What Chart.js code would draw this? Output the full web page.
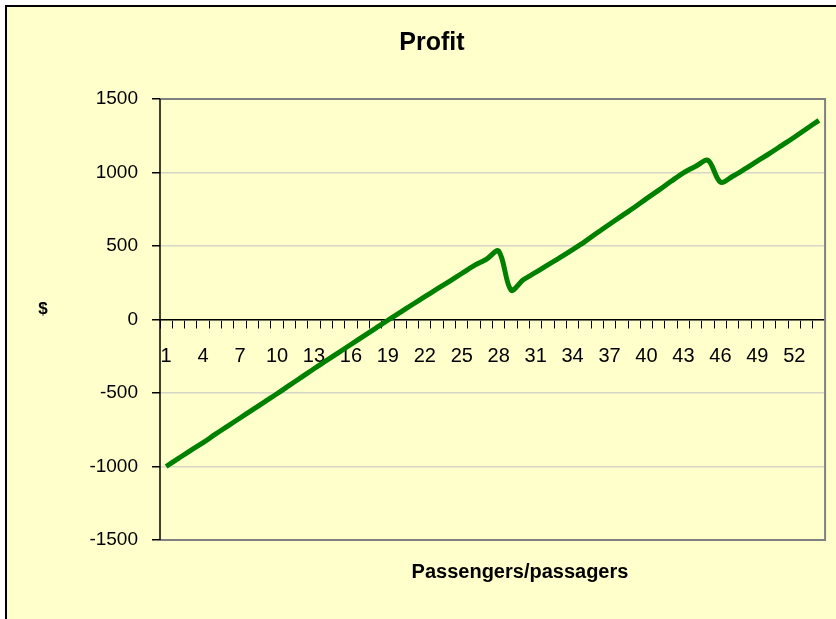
<!DOCTYPE html>
<html>
<head>
<meta charset="utf-8">
<script src="https://cdn.jsdelivr.net/npm/chart.js@4/dist/chart.umd.min.js"></script>
<style>
  html, body { margin: 0; padding: 0; background: #fff; }
  #wrap { position: absolute; left: 0; top: 0; width: 836px; height: 619px; }
</style>
</head>
<body>
<div id="wrap"><canvas id="profitChart" width="836" height="619"></canvas></div>
<script>
// passengers (categories)
const passengers = ['1','2','3','4','5','6','7','8','9','10','11','12','13','14','15','16','17','18',
  '19','20','21','22','23','24','25','26','27','28','29','30','31','32','33','34','35','36',
  '37','38','39','40','41','42','43','44','45','46','47','48','49','50','51','52','53','54'];

// profit in $
const profit = [-1000, -945, -890, -838, -780, -725, -670, -615, -560, -505, -448, -392, -335, -280, -225, -170, -115, -60,
  -5, 48, 102, 155, 208, 260, 313, 366, 410, 465, 200, 270, 320, 372, 422, 475, 530, 590,
  648, 705, 762, 822, 880, 940, 998, 1042, 1082, 935, 975, 1025, 1078, 1130, 1185, 1240, 1298, 1355];

// labels shown on the category axis
const xTickLabels = ['1','4','7','10','13','16','19','22','25','28','31','34','37','40','43','46','49','52'];
const yTicks = [-1500, -1000, -500, 0, 500, 1000, 1500];

const FONT = "'Liberation Sans', Arial, sans-serif";

const frame = {
  id: 'frame',
  beforeDraw(chart) {
    const ctx = chart.ctx;
    ctx.save();
    ctx.fillStyle = '#ffffff';
    ctx.fillRect(0, 0, chart.width, chart.height);
    ctx.fillStyle = '#FFFFCC';
    ctx.fillRect(6, 6, chart.width, chart.height);
    ctx.strokeStyle = '#000';
    ctx.lineWidth = 2;
    ctx.beginPath();
    ctx.moveTo(6, chart.height);
    ctx.lineTo(6, 6);
    ctx.lineTo(chart.width, 6);
    ctx.stroke();
    ctx.restore();
  },
  beforeDatasetsDraw(chart) {
    // plot area border
    const a = chart.chartArea, ctx = chart.ctx;
    ctx.save();
    ctx.strokeStyle = '#808080';
    ctx.lineWidth = 2;
    ctx.beginPath();
    ctx.moveTo(a.left, a.top);
    ctx.lineTo(a.right, a.top);
    ctx.lineTo(a.right, a.bottom);
    ctx.lineTo(a.left, a.bottom);
    ctx.stroke();
    ctx.strokeStyle = '#000';
    ctx.lineWidth = 1.5;
    ctx.beginPath();
    ctx.moveTo(a.left, a.top);
    ctx.lineTo(a.left, a.bottom);
    ctx.stroke();
    ctx.restore();
  },
  afterDraw(chart) {
    const ctx = chart.ctx;
    ctx.save();
    ctx.fillStyle = '#000';
    ctx.textAlign = 'center';
    ctx.textBaseline = 'middle';
    ctx.font = 'bold 25px ' + FONT;
    ctx.fillText('Profit', 432, 43);
    ctx.font = 'bold 17px ' + FONT;
    ctx.fillText('$', 43, 309);
    ctx.font = 'bold 20px ' + FONT;
    ctx.fillText('Passengers/passagers', 520, 572);
    ctx.restore();
  }
};

new Chart(document.getElementById('profitChart'), {
  type: 'line',
  data: {
    labels: passengers,
    datasets: [{
      label: 'Profit',
      data: profit,
      borderColor: '#008000',
      borderWidth: 5,
      pointRadius: 0,
      fill: false,
      tension: 0.33
    }]
  },
  options: {
    responsive: false,
    animation: false,
    layout: { padding: { left: 0, top: 99, right: 8, bottom: 79 } },
    plugins: { legend: { display: false }, tooltip: { enabled: false } },
    scales: {
      x: {
        position: { y: 0 },
        offset: true,
        grid: { display: true, drawOnChartArea: false, drawTicks: true, tickLength: 8, offset: true, tickColor: '#000' },
        border: { color: '#000', width: 1.5 },
        ticks: {
          autoSkip: false,
          maxRotation: 0,
          padding: 17,
          color: '#000',
          font: { family: FONT, size: 20 },
          callback: function (v, i) {
            const lab = passengers[i];
            return xTickLabels.includes(lab) ? lab : '';
          }
        }
      },
      y: {
        min: -1500,
        max: 1500,
        afterFit(scale) { scale.width = 160; },
        afterBuildTicks(scale) { scale.ticks = yTicks.map(v => ({ value: v })); },
        grid: { color: '#d6d6c6', lineWidth: 1.5, drawTicks: true, tickLength: 8, tickColor: '#000' },
        border: { display: false },
        ticks: {
          padding: 14,
          color: '#000',
          font: { family: FONT, size: 19 },
          callback: v => String(v)
        }
      }
    }
  },
  plugins: [frame]
});
</script>
</body>
</html>
